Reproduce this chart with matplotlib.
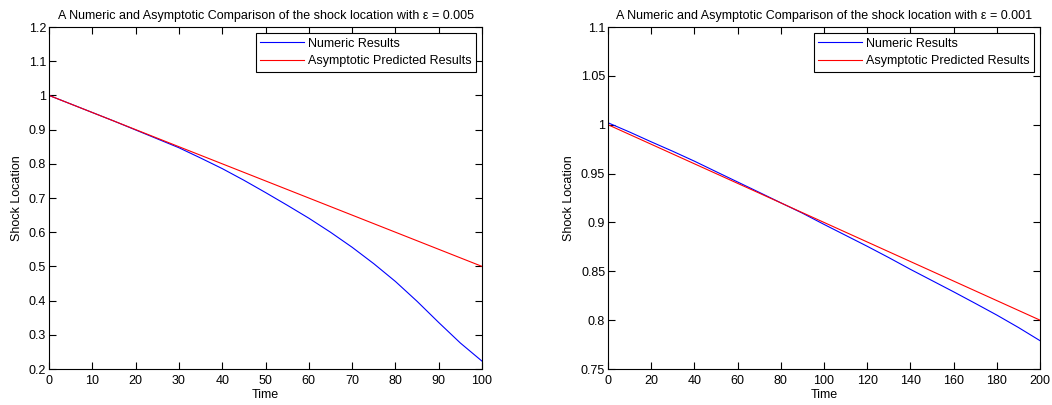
import matplotlib
matplotlib.use("Agg")
import matplotlib.pyplot as plt

plt.rcParams['font.family'] = ['Liberation Sans', 'DejaVu Sans']
plt.rcParams['font.size'] = 9

# epsilon = 0.005
time_a = [0, 5, 10, 15, 20, 25, 30, 35, 40, 45, 50, 55, 60, 65, 70, 75, 80, 85, 90, 95, 100]
numeric_a = [1.000, 0.975, 0.950, 0.925, 0.899, 0.873, 0.847, 0.817, 0.786, 0.752, 0.716,
             0.679, 0.641, 0.600, 0.556, 0.508, 0.456, 0.398, 0.336, 0.276, 0.223]
asym_a = [1.000, 0.975, 0.950, 0.925, 0.900, 0.875, 0.850, 0.825, 0.800, 0.775, 0.750,
          0.725, 0.700, 0.675, 0.650, 0.625, 0.600, 0.575, 0.550, 0.525, 0.500]

# epsilon = 0.001
time_b = [0, 10, 20, 30, 40, 50, 60, 70, 80, 90, 100, 110, 120, 130, 140, 150, 160, 170, 180, 190, 200]
numeric_b = [1.002, 0.9925, 0.9825, 0.9728, 0.9627, 0.9520, 0.9414, 0.9308, 0.9201, 0.9095, 0.8980,
             0.8868, 0.8756, 0.8640, 0.8520, 0.8405, 0.8290, 0.8172, 0.8052, 0.7925, 0.7790]
asym_b = [1.00, 0.99, 0.98, 0.97, 0.96, 0.95, 0.94, 0.93, 0.92, 0.91, 0.90,
          0.89, 0.88, 0.87, 0.86, 0.85, 0.84, 0.83, 0.82, 0.81, 0.80]

xticks_a = [0, 10, 20, 30, 40, 50, 60, 70, 80, 90, 100]
yticks_a = [0.2, 0.3, 0.4, 0.5, 0.6, 0.7, 0.8, 0.9, 1.0, 1.1, 1.2]
yticklabels_a = ['0.2', '0.3', '0.4', '0.5', '0.6', '0.7', '0.8', '0.9', '1', '1.1', '1.2']
xticks_b = [0, 20, 40, 60, 80, 100, 120, 140, 160, 180, 200]
yticks_b = [0.75, 0.8, 0.85, 0.9, 0.95, 1.0, 1.05, 1.1]
yticklabels_b = ['0.75', '0.8', '0.85', '0.9', '0.95', '1', '1.05', '1.1']

fig = plt.figure(figsize=(10.52, 4.05), dpi=100)
W, H = 1052, 405
ax1 = fig.add_axes([49 / W, (H - 369) / H, (482 - 49) / W, (369 - 27) / H])
ax2 = fig.add_axes([608 / W, (H - 369) / H, (1040 - 608) / W, (369 - 27) / H])


def style(ax, xt, yt, ytl, xlim, ylim, title):
    ax.set_xlim(*xlim)
    ax.set_ylim(*ylim)
    ax.set_xticks(xt)
    ax.set_xticklabels([str(v) for v in xt])
    ax.set_yticks(yt)
    ax.set_yticklabels(ytl)
    ax.tick_params(direction='in', length=5, width=0.8, top=True, right=True,
                   labelsize=9)
    ax.tick_params(axis='x', pad=4)
    ax.tick_params(axis='y', pad=2)
    for s in ax.spines.values():
        s.set_linewidth(0.8)
    ax.set_xlabel('Time', labelpad=2)
    ax.set_ylabel('Shock Location', labelpad=4)
    ax.set_title(title, fontsize=9, pad=6)


ax1.plot(time_a, numeric_a, color='blue', lw=0.8, label='Numeric Results')
ax1.plot(time_a, asym_a, color='red', lw=0.8, label='Asymptotic Predicted Results')
style(ax1, xticks_a, yticks_a, yticklabels_a, (0, 100), (0.2, 1.2),
      'A Numeric and Asymptotic Comparison of the shock location with \u03b5 = 0.005')

ax2.plot(time_b, numeric_b, color='blue', lw=0.8, label='Numeric Results')
ax2.plot(time_b, asym_b, color='red', lw=0.8, label='Asymptotic Predicted Results')
style(ax2, xticks_b, yticks_b, yticklabels_b, (0, 200), (0.75, 1.1),
      'A Numeric and Asymptotic Comparison of the shock location with \u03b5 = 0.001')

for ax in (ax1, ax2):
    leg = ax.legend(loc='upper right', fancybox=False, framealpha=1, edgecolor='black',
                    handlelength=3.5, borderpad=0.35, labelspacing=0.45,
                    handletextpad=0.3, borderaxespad=0.5, fontsize=9)
    leg.get_frame().set_linewidth(0.8)

fig.savefig('out.png', dpi=100)
